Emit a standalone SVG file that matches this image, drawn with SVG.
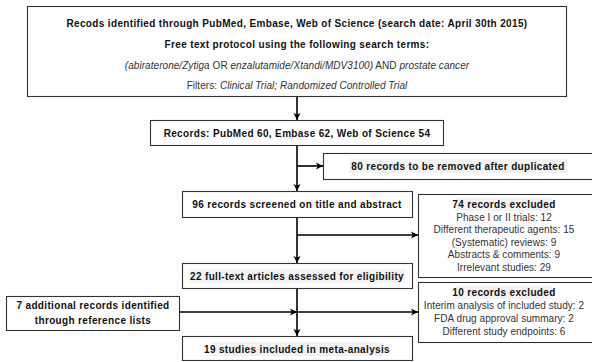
<svg xmlns="http://www.w3.org/2000/svg" width="592" height="362" viewBox="0 0 592 362">
<defs>
<marker id="ah" markerUnits="userSpaceOnUse" markerWidth="8" markerHeight="8" refX="7" refY="4" orient="auto">
<path d="M0,0.5 L7,4 L0,7.5 L1.8,4 z" fill="#000"/>
</marker>
<style>
.box{fill:#fff;stroke:#333;stroke-width:1.1}
.b{font-family:"Liberation Sans",Arial,sans-serif;font-size:10px;font-weight:bold;letter-spacing:0.35px;fill:#111;text-anchor:middle}
.r{font-family:"Liberation Sans",Arial,sans-serif;font-size:10px;fill:#333;text-anchor:middle;letter-spacing:0.05px}
.i{font-style:italic}
.hl{fill:#f3f3f3}
.c{fill:none;stroke:#000;stroke-width:1.6}
</style>
</defs>
<rect width="592" height="362" fill="#fff"/>

<g id="search">
<rect class="box" x="27.5" y="6.5" width="539" height="90"/>
<text class="b" x="297" y="27">Recods identified through PubMed, Embase, Web of Science (search date: April 30th 2015)</text>
<text class="b" x="297" y="48">Free text protocol using the following search terms:</text>
<text class="r" x="297" y="68.5"><tspan class="i">(abiraterone/Zytiga</tspan> OR <tspan class="i">enzalutamide/Xtandi/MDV3100)</tspan> AND <tspan class="i">prostate cancer</tspan></text>
<text class="r" x="297" y="89">Filters: <tspan class="i">Clinical Trial; Randomized Controlled Trial</tspan></text>
</g>

<g id="records">
<rect class="box" x="150.5" y="120.5" width="293" height="25"/>
<text class="b" x="297" y="136.5">Records: PubMed 60, Embase 62, Web of Science 54</text>
</g>

<g id="duplicates">
<rect class="box" x="323.5" y="153.5" width="275" height="26"/>
<rect class="hl" x="349" y="159" width="218" height="14"/>
<text class="b" x="458" y="169.5">80 records to be removed after duplicated</text>
</g>

<g id="screened">
<rect class="box" x="182.5" y="191.5" width="230" height="26"/>
<text class="b" x="297" y="207.5">96 records screened on title and abstract</text>
</g>

<g id="excluded74">
<rect class="box" x="418.5" y="194.5" width="180" height="83"/>
<rect class="hl" x="455" y="198" width="98" height="13"/>
<text class="b" x="504" y="208">74 records excluded</text>
<text class="r" x="504" y="220.5">Phase I or II trials: 12</text>
<text class="r" x="504" y="233">Different therapeutic agents: 15</text>
<text class="r" x="504" y="245.5">(Systematic) reviews: 9</text>
<text class="r" x="504" y="258">Abstracts &amp; comments: 9</text>
<text class="r" x="504" y="270.5">Irrelevant studies: 29</text>
</g>

<g id="fulltext">
<rect class="box" x="182.5" y="263.5" width="230" height="25"/>
<rect class="hl" x="189" y="269" width="216" height="14"/>
<text class="b" x="297" y="279.5">22 full-text articles assessed for eligibility</text>
</g>

<g id="excluded10">
<rect class="box" x="418.5" y="282.5" width="180" height="60"/>
<rect class="hl" x="455" y="286" width="98" height="13"/>
<text class="b" x="504" y="296">10 records excluded</text>
<text class="r" x="504" y="309">Interim analysis of included study: 2</text>
<text class="r" x="504" y="322">FDA drug approval summary: 2</text>
<text class="r" x="504" y="335">Different study endpoints: 6</text>
</g>

<g id="additional">
<rect class="box" x="6.5" y="296.5" width="173" height="34"/>
<text class="b" x="93" y="308.5">7 additional records identified</text>
<text class="b" x="93" y="323.5">through reference lists</text>
</g>

<g id="included">
<rect class="box" x="182.5" y="336.5" width="230" height="24"/>
<rect class="hl" x="211" y="342" width="172" height="14"/>
<text class="b" x="297" y="352.5">19 studies included in meta-analysis</text>
</g>

<g id="connectors">
<path class="c" d="M297,97 V120" marker-end="url(#ah)"/>
<path class="c" d="M297,146 V191" marker-end="url(#ah)"/>
<path class="c" d="M297,166 H323" marker-end="url(#ah)"/>
<path class="c" d="M297,218 V263" marker-end="url(#ah)"/>
<path class="c" d="M297,235 H418" marker-end="url(#ah)"/>
<path class="c" d="M297,289 V336" marker-end="url(#ah)"/>
<path class="c" d="M180,312 H297" marker-end="url(#ah)"/>
<path class="c" d="M297,312 H418" marker-end="url(#ah)"/>
</g>
</svg>
